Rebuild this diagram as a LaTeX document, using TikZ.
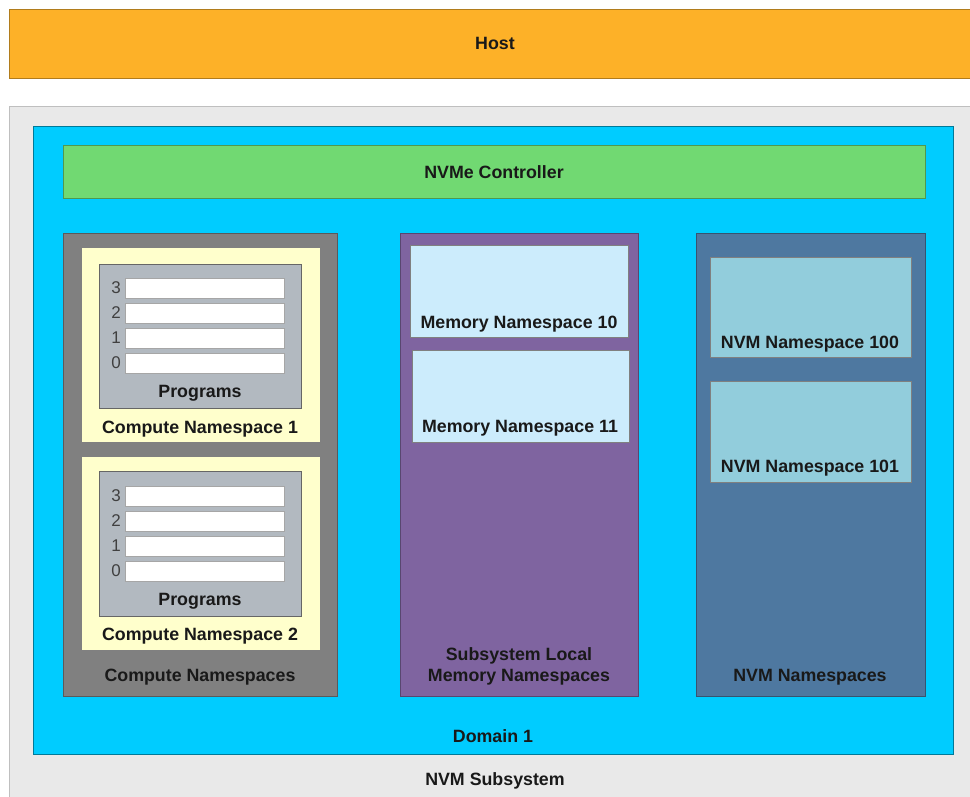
\documentclass[tikz,border=0pt]{standalone}
\usepackage{fontspec}
\setmainfont{Liberation Sans}
\begin{document}
\begin{tikzpicture}[x=1pt,y=-1pt,
  box/.style={draw=#1!70!black, line width=0.6pt, fill=#1, anchor=north west, inner sep=0pt, outer sep=0pt},
  lbl/.style={font=\fontsize{17.8}{21}\selectfont\bfseries, text=black!90, inner sep=0pt},
  num/.style={font=\fontsize{17}{18}\selectfont, text=black!75, inner sep=0pt}]
\definecolor{hostc}{HTML}{FDB128}
\definecolor{subc}{HTML}{E9E9E9}
\definecolor{domc}{HTML}{00CCFF}
\definecolor{ctrlc}{HTML}{71D972}
\definecolor{compc}{HTML}{808080}
\definecolor{cnsc}{HTML}{FFFFCC}
\definecolor{progc}{HTML}{B2B9C0}
\definecolor{memc}{HTML}{7F64A0}
\definecolor{mnsc}{HTML}{CCECFC}
\definecolor{nvmc}{HTML}{4E78A0}
\definecolor{nnsc}{HTML}{92CDDC}
\useasboundingbox (0,0) rectangle (970,797);
\fill[white] (0,0) rectangle (970,797);
% Host
\node[box=hostc, minimum width=962, minimum height=69] (host) at (9,9) {};
\node[lbl] (hostl) at (495,43) {Host};
% Subsystem
\node[box=subc, draw=black!25, minimum width=962, minimum height=692] (sub) at (9,106) {};
\node[lbl] (subl) at (495,781) {NVM Subsystem};
% Domain
\node[box=domc, draw=domc!60!black, minimum width=920, minimum height=628] (dom) at (33,126) {};
\node[lbl] (doml) at (493,736) {Domain 1};
% Controller
\node[box=ctrlc, minimum width=862, minimum height=53] (ctrl) at (63,145) {};
\node[lbl] (ctrll) at (494,172) {NVMe Controller};
% Compute namespaces
\node[box=compc, minimum width=274, minimum height=463] (comp) at (63,233) {};
\node[lbl] (compl) at (200,677) {Compute Namespaces};
% Compute NS 1
\node[box=cnsc, draw=black!50, minimum width=239, minimum height=195] (cns1) at (81,247) {};
\node[lbl] (cns1l) at (200,429) {Compute Namespace 1};
\node[box=progc, draw=black!60, minimum width=202, minimum height=144] (prog1) at (99,264) {};
\node[lbl] (prog1l) at (200,393) {Programs};
\foreach \i/\yy in {3/278,2/303,1/328,0/353}{
  \node[box=white, draw=black!35, minimum width=159, minimum height=20] (p1r\i) at (125,\yy) {};
  \node[num, anchor=east] (p1n\i) at (121,\yy+10) {\i};
}
% Compute NS 2
\node[box=cnsc, draw=black!50, minimum width=239, minimum height=194] (cns2) at (81,456) {};
\node[lbl] (cns2l) at (200,636) {Compute Namespace 2};
\node[box=progc, draw=black!60, minimum width=202, minimum height=145] (prog2) at (99,471) {};
\node[lbl] (prog2l) at (200,601) {Programs};
\foreach \i/\yy in {3/486,2/511,1/536,0/561}{
  \node[box=white, draw=black!35, minimum width=159, minimum height=20] (p2r\i) at (125,\yy) {};
  \node[num, anchor=east] (p2n\i) at (121,\yy+10) {\i};
}
% Memory namespaces
\node[box=memc, minimum width=238, minimum height=463] (mem) at (400,233) {};
\node[lbl, align=center] (meml) at (519,666) {Subsystem Local\\Memory Namespaces};
\node[box=mnsc, draw=black!50, minimum width=218, minimum height=92] (mns10) at (410,245) {};
\node[lbl] (mns10l) at (519,324) {Memory Namespace 10};
\node[box=mnsc, draw=black!50, minimum width=217, minimum height=92] (mns11) at (412,350) {};
\node[lbl] (mns11l) at (520,428) {Memory Namespace 11};
% NVM namespaces
\node[box=nvmc, minimum width=229, minimum height=463] (nvm) at (696,233) {};
\node[lbl] (nvml) at (810,677) {NVM Namespaces};
\node[box=nnsc, draw=black!50, minimum width=201, minimum height=100] (nns100) at (710,257) {};
\node[lbl] (nns100l) at (810,344) {NVM Namespace 100};
\node[box=nnsc, draw=black!50, minimum width=201, minimum height=101] (nns101) at (710,381) {};
\node[lbl] (nns101l) at (810,468) {NVM Namespace 101};
\end{tikzpicture}
\end{document}
